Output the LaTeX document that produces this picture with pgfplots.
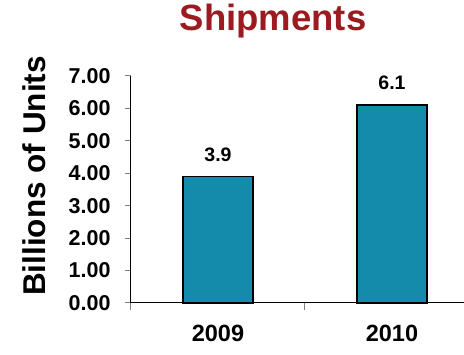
\documentclass[border=0pt]{standalone}
\usepackage{pgfplots}
\pgfplotsset{compat=1.18}
\usepackage{fontspec}
\setmainfont{Liberation Sans}
\definecolor{barcol}{RGB}{21,139,171}
\definecolor{titlecol}{RGB}{155,28,32}
\begin{document}
\begin{tikzpicture}
\begin{axis}[
  at={(0pt,0pt)}, anchor=south west,
  scale only axis, width=333pt, height=227pt,
  xmin=-0.5, xmax=1.414, ymin=0, ymax=7,
  clip=false,
  axis x line*=bottom, axis y line*=left,
  axis line style={-, black, line width=1pt},
  xtick={0,1}, xticklabels={2009,2010},
  minor xtick={-0.5,0.5},
  major x tick style={draw=none},
  minor x tick style={gray, line width=1pt},
  minor tick length=7pt,
  ytick={0,1,...,7},
  ytick style={gray, line width=1pt},
  major tick length=6pt,
  tick align=outside,
  /pgf/number format/assume math mode=true,
  yticklabel={\pgfmathprintnumber[fixed,fixed zerofill,precision=2]{\tick}},
  yticklabel style={font=\bfseries\fontsize{21.5}{24}\selectfont, xshift=-11pt},
  xticklabel style={font=\bfseries\fontsize{23.5}{27}\selectfont, yshift=-13pt},
  ybar, bar width=70pt,
  nodes near coords={\pgfmathprintnumber[fixed,fixed zerofill,precision=1]{\pgfplotspointmeta}},
  nodes near coords style={font=\bfseries\fontsize{19.5}{22}\selectfont, anchor=south, yshift=11pt},
]
\addplot[fill=barcol, draw=black, line width=1.5pt] coordinates {(0,3.9) (1,6.1)};
\end{axis}
\node[font=\bfseries\fontsize{36.5}{40}\selectfont, text=titlecol] at (142pt,282pt) {Shipments};
\node[font=\bfseries\fontsize{31.5}{34}\selectfont, rotate=90] at (-97pt,127pt) {Billions of Units};
\pgfresetboundingbox
\path[use as bounding box] (-131pt,-52pt) rectangle (333pt,303pt);
\end{tikzpicture}
\end{document}
